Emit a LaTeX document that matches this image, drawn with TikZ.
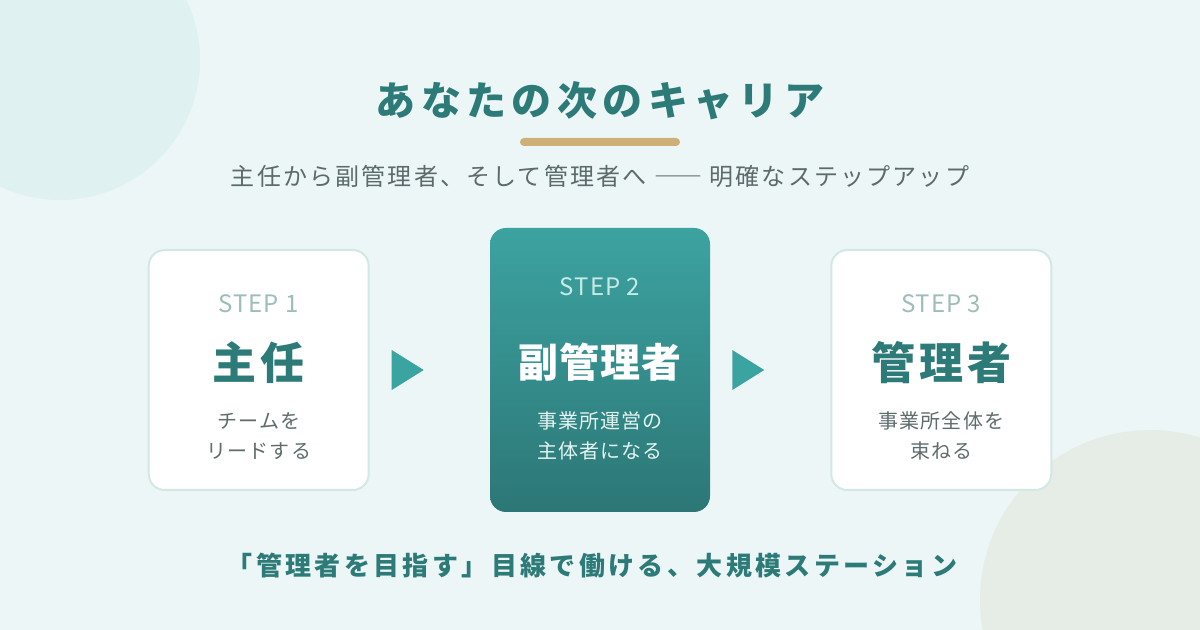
\documentclass[tikz,border=0pt]{standalone}
\usepackage{fontspec}
\setmainfont{Noto Sans CJK JP}
\usetikzlibrary{positioning,calc}

\definecolor{pagebg}{HTML}{EDF6F7}
\definecolor{blobteal}{HTML}{E0F1F1}
\definecolor{blobsage}{HTML}{E6EDE6}
\definecolor{tealdark}{HTML}{2D7B78}
\definecolor{tealmid}{HTML}{3BA3A0}
\definecolor{goldbar}{HTML}{CDB078}
\definecolor{subgray}{HTML}{5B6A6A}
\definecolor{stepgray}{HTML}{9DBDBA}
\definecolor{cardline}{HTML}{D3E7E5}
\definecolor{desctxt}{HTML}{5F6C6C}
\definecolor{hitop}{HTML}{3CA3A1}
\definecolor{hibot}{HTML}{2C7776}
\definecolor{histep}{HTML}{C8EAE7}
\definecolor{hidesc}{HTML}{E4F4F2}

\begin{document}
\begin{tikzpicture}[
    x=0.75pt, y=-0.75pt,
    node distance=90pt,
    card/.style={rectangle, draw=cardline, line width=1.5pt, fill=white, rounded corners=12pt, minimum width=165pt, minimum height=180pt, inner sep=0pt},
    cardhi/.style={rectangle, rounded corners=12pt, top color=hitop, bottom color=hibot, minimum width=165pt, minimum height=213pt, inner sep=0pt},
    steplbl/.style={inner sep=0pt, text=stepgray, font=\fontsize{18}{22}\selectfont\addfontfeatures{LetterSpace=4}},
    rolelbl/.style={inner sep=0pt, text=tealdark, font=\fontsize{33}{40}\selectfont\bfseries\addfontfeatures{LetterSpace=9}},
    desc/.style={inner sep=0pt, text=desctxt, align=center, font=\fontsize{15}{23}\selectfont\addfontfeatures{LetterSpace=6}},
    tri/.style={fill=tealmid}
]

% === BACKGROUND ===
\useasboundingbox (0,0) rectangle (1200,630);
\clip (0,0) rectangle (1200,630);
\fill[pagebg] (0,0) rectangle (1200,630);
\fill[blobteal] (60,60) circle[radius=140];
\fill[blobsage] (1150,600) circle[radius=170];

% === HEADER ===
\node[inner sep=0pt, text=tealdark, font=\fontsize{30}{36}\selectfont\bfseries\addfontfeatures{LetterSpace=13.5}] (title) at (600,101) {あなたの次のキャリア};
\fill[goldbar, rounded corners=3pt] (520,138) rectangle (680,146);
\node[inner sep=0pt, text=subgray, font=\fontsize{18}{22}\selectfont\addfontfeatures{LetterSpace=9}] (subtitle) at (600,176) {主任から副管理者、そして管理者へ ―― 明確なステップアップ};

% === STEPS ===
\node[cardhi] (s2) at (600,370) {};
\node[card, left=of s2] (s1) {};
\node[card, right=of s2] (s3) {};

% step 1
\node[steplbl] (s1step) at ($(s1.center)+(0,-66)$) {STEP 1};
\node[rolelbl] (s1role) at ($(s1.center)+(0,-7)$) {主任};
\node[desc] (s1desc) at ($(s1.center)+(0,66)$) {チームを\\リードする};

% step 2 (highlighted)
\node[steplbl, text=histep] (s2step) at ($(s2.center)+(0,-83)$) {STEP 2};
\node[rolelbl, text=white, font=\fontsize{30}{36}\selectfont\bfseries\addfontfeatures{LetterSpace=3}] (s2role) at ($(s2.center)+(0,-8)$) {副管理者};
\node[desc, text=hidesc] (s2desc) at ($(s2.center)+(0,66)$) {事業所運営の\\主体者になる};

% step 3
\node[steplbl] (s3step) at ($(s3.center)+(0,-66)$) {STEP 3};
\node[rolelbl] (s3role) at ($(s3.center)+(0,-7)$) {管理者};
\node[desc] (s3desc) at ($(s3.center)+(0,66)$) {事業所全体を\\束ねる};

% === ARROWS ===
\fill[tri] ($(s1.east)+(22,-20)$) -- ($(s1.east)+(22,20)$) -- ($(s1.east)+(54,0)$) -- cycle;
\fill[tri] ($(s2.east)+(22,-20)$) -- ($(s2.east)+(22,20)$) -- ($(s2.east)+(54,0)$) -- cycle;

% === FOOTER ===
\node[inner sep=0pt, text=tealdark, font=\fontsize{19.5}{24}\selectfont\bfseries\addfontfeatures{LetterSpace=13}] (tagline) at (592,566) {「管理者を目指す」目線で働ける、大規模ステーション};

\end{tikzpicture}
\end{document}
